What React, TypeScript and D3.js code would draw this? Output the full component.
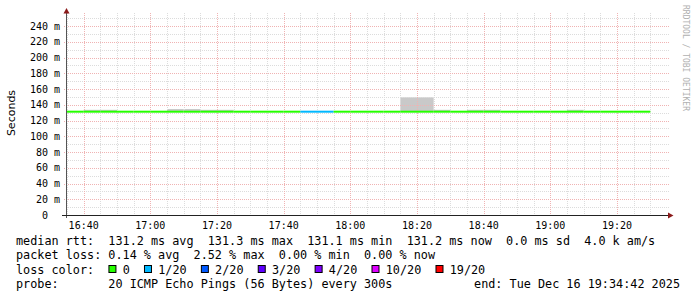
import React from "react";
import * as d3 from "d3";

// ---- data (5-minute intervals, start times) ----
const intervalStarts = [
  "16:30", "16:35", "16:40", "16:45", "16:50", "16:55",
  "17:00", "17:05", "17:10", "17:15", "17:20", "17:25",
  "17:30", "17:35", "17:40", "17:45", "17:50", "17:55",
  "18:00", "18:05", "18:10", "18:15", "18:20", "18:25",
  "18:30", "18:35", "18:40", "18:45", "18:50", "18:55",
  "19:00", "19:05", "19:10", "19:15", "19:20", "19:25",
];
const medianMs = [
  131.2, 131.2, 131.2, 131.2, 131.2, 131.2,
  131.2, 131.2, 131.2, 131.2, 131.2, 131.2,
  131.2, 131.2, 131.2, 131.2, 131.2, 131.2,
  131.2, 131.2, 131.2, 131.2, 131.2, 131.2,
  131.2, 131.2, 131.2, 131.2, 131.2, 131.2,
  131.2, 131.2, 131.2, 131.2, 131.2, 131.2,
];
const smokeMaxMs = [
  131.6, 131.6, 133.6, 133.6, 131.6, 131.6,
  131.6, 134.6, 134.6, 133.6, 133.6, 131.6,
  131.6, 131.6, 131.6, 131.6, 131.6, 131.6,
  131.6, 131.6, 131.6, 149.5, 149.5, 133.6,
  131.6, 133.6, 133.6, 131.6, 131.6, 131.6,
  131.6, 133.6, 131.6, 131.6, 131.6, 131.6,
];
const smokeMinMs = [
  130.9, 130.9, 130.9, 130.9, 130.9, 130.9,
  130.9, 130.9, 130.9, 130.9, 130.9, 130.9,
  130.9, 130.9, 130.9, 130.9, 130.9, 130.9,
  130.9, 130.9, 130.9, 130.9, 130.9, 130.9,
  130.9, 130.9, 130.9, 130.9, 130.9, 130.9,
  130.9, 130.9, 130.9, 130.9, 130.9, 130.9,
];
const lossCount = [
  0, 0, 0, 0, 0, 0,
  0, 0, 0, 0, 0, 0,
  0, 0, 0, 1, 1, 0,
  0, 0, 0, 0, 0, 0,
  0, 0, 0, 0, 0, 0,
  0, 0, 0, 0, 0, 0,
];

const xTickLabels = ["16:40", "17:00", "17:20", "17:40", "18:00", "18:20", "18:40", "19:00", "19:20"];
const yTickValues = [0, 20, 40, 60, 80, 100, 120, 140, 160, 180, 200, 220, 240];

const lossLevels = [0, 1, 2, 3, 4, 10, 19];
const lossLabels = ["0", "1/20", "2/20", "3/20", "4/20", "10/20", "19/20"];
const lossColors = ["#26ff00", "#00b8ff", "#0059ff", "#5e00ff", "#7e00ff", "#dd00ff", "#ff0000"];

const legendMedian = "median rtt:  131.2 ms avg  131.3 ms max  131.1 ms min  131.2 ms now  0.0 ms sd  4.0 k am/s";
const legendLoss = "packet loss: 0.14 % avg  2.52 % max  0.00 % min  0.00 % now";
const legendProbe = "probe:       20 ICMP Echo Pings (56 Bytes) every 300s";
const legendEnd = "end: Tue Dec 16 19:34:42 2025";

const toMin = (s: string) => {
  const [h, m] = s.split(":").map(Number);
  return h * 60 + m;
};

const STEP = 5;
const startMin = toMin("16:34") + 42 / 60;
const endMin = startMin + 180;

export default function App() {
  const W = 697, H = 297;
  const left = 66, right = 666, top = 15, bottom = 215;
  const x = d3.scaleLinear().domain([startMin, endMin]).range([left, right]);
  const y = d3.scaleLinear().domain([0, 254]).range([bottom, top]);

  const mono = "'DejaVu Sans Mono', monospace";
  const cw = 7.11;
  const lx = 16;

  const minorV: number[] = [];
  for (let t = Math.ceil(startMin / 5) * 5; t <= endMin; t += 5) minorV.push(t);
  const minorH: number[] = [];
  for (let v = 10; v <= 250; v += 20) minorH.push(v);

  const lineGen = d3.line<[number, number]>().x((d) => x(d[0])).y((d) => y(d[1]));

  const lossColorFor = (n: number) => {
    let idx = 0;
    lossLevels.forEach((l, i) => { if (n >= l) idx = i; });
    return lossColors[idx];
  };

  const clipX0 = left;
  const segs = intervalStarts.map((s, i) => {
    const t0 = Math.max(toMin(s), startMin);
    const t1 = toMin(s) + STEP;
    return { t0, t1, i };
  });

  const lossColStarts: number[] = [];
  let col = 13;
  lossLabels.forEach((lab) => {
    lossColStarts.push(col);
    col += 2 + lab.length + 2;
  });

  return (
    <svg width={W} height={H} style={{ position: "absolute", left: 0, top: 0, background: "#fff" }}>
      <rect x={0} y={0} width={W} height={H} fill="#fff" />
      {/* smoke */}
      {segs.map(({ t0, t1, i }) => (
        <rect key={"s" + i} x={x(t0)} width={x(t1) - x(t0)} y={y(smokeMaxMs[i])}
          height={y(smokeMinMs[i]) - y(smokeMaxMs[i])} fill="#c9c9c9" />
      ))}
      {/* minor grid */}
      {minorV.map((t) => (
        <line key={"mv" + t} x1={Math.round(x(t)) + 0.5} x2={Math.round(x(t)) + 0.5} y1={13} y2={bottom}
          stroke="#dcdcdc" strokeDasharray="1,1" />
      ))}
      {minorH.map((v) => (
        <line key={"mh" + v} x1={left} x2={669} y1={Math.round(y(v)) + 0.5} y2={Math.round(y(v)) + 0.5}
          stroke="#dcdcdc" strokeDasharray="1,1" />
      ))}
      {/* major grid */}
      {xTickLabels.map((l) => (
        <line key={"Mv" + l} x1={Math.round(x(toMin(l))) + 0.5} x2={Math.round(x(toMin(l))) + 0.5} y1={13} y2={bottom + 2}
          stroke="#f0b3b3" strokeDasharray="1,1" />
      ))}
      {yTickValues.filter((v) => v > 0).map((v) => (
        <line key={"Mh" + v} x1={left - 2} x2={669} y1={Math.round(y(v)) + 0.5} y2={Math.round(y(v)) + 0.5}
          stroke="#f0b3b3" strokeDasharray="1,1" />
      ))}
      {/* median line */}
      {segs.map(({ t0, t1, i }) => (
        <path key={"l" + i} d={lineGen([[t0, medianMs[i]], [t1, medianMs[i]]]) || ""}
          stroke={lossColorFor(lossCount[i])} strokeWidth={2} fill="none" />
      ))}
      {/* axes */}
      <line x1={left + 0.5} x2={left + 0.5} y1={12} y2={bottom + 3} stroke="#555" />
      <line x1={62} x2={670} y1={bottom + 0.5} y2={bottom + 0.5} stroke="#222" />
      <path d={`M${left + 0.5},8 L${left + 3.5},13.5 L${left - 2.5},13.5 Z`} fill="#8b1a1a" />
      <path d={`M673.5,${bottom + 0.5} L668,${bottom - 2.5} L668,${bottom + 3.5} Z`} fill="#8b1a1a" />
      {/* y tick labels */}
      {yTickValues.map((v) => (
        <text key={"yl" + v} x={v === 0 ? 48 : 60} y={y(v) + 3.5} textAnchor="end"
          fontFamily={mono} fontSize={10} fill="#000">
          {v === 0 ? "0" : `${v} m`}
        </text>
      ))}
      {/* x tick labels */}
      {xTickLabels.map((l) => (
        <text key={"xl" + l} x={x(toMin(l))} y={229} textAnchor="middle" fontFamily={mono} fontSize={10} fill="#000">
          {l}
        </text>
      ))}
      {/* y axis title */}
      <text transform="translate(15,113) rotate(-90)" textAnchor="middle"
        fontFamily="'DejaVu Sans', sans-serif" fontSize={11} fill="#000">Seconds</text>
      {/* watermark */}
      <text transform="translate(683,5) rotate(90)" textAnchor="start"
        fontFamily={mono} fontSize={8} fill="#b0b0b0">RRDTOOL / TOBI OETIKER</text>
      {/* legend */}
      <g fontFamily={mono} fontSize={11.8} fill="#000" style={{ whiteSpace: "pre" }}>
        <text x={lx} y={245} xmlSpace="preserve">{legendMedian}</text>
        <text x={lx} y={259.3} xmlSpace="preserve">{legendLoss}</text>
        <text x={lx} y={273.5} xmlSpace="preserve">loss color:</text>
        {lossLabels.map((lab, i) => (
          <g key={"lg" + i}>
            <rect x={lx + lossColStarts[i] * cw + 0.5} y={265.5} width={7} height={7}
              fill={lossColors[i]} stroke="#000" strokeWidth={1} />
            <text x={lx + (lossColStarts[i] + 2) * cw} y={273.5}>{lab}</text>
          </g>
        ))}
        <text x={lx} y={287.7} xmlSpace="preserve">{legendProbe}</text>
        <text x={680} y={287.7} textAnchor="end">{legendEnd}</text>
      </g>
    </svg>
  );
}
